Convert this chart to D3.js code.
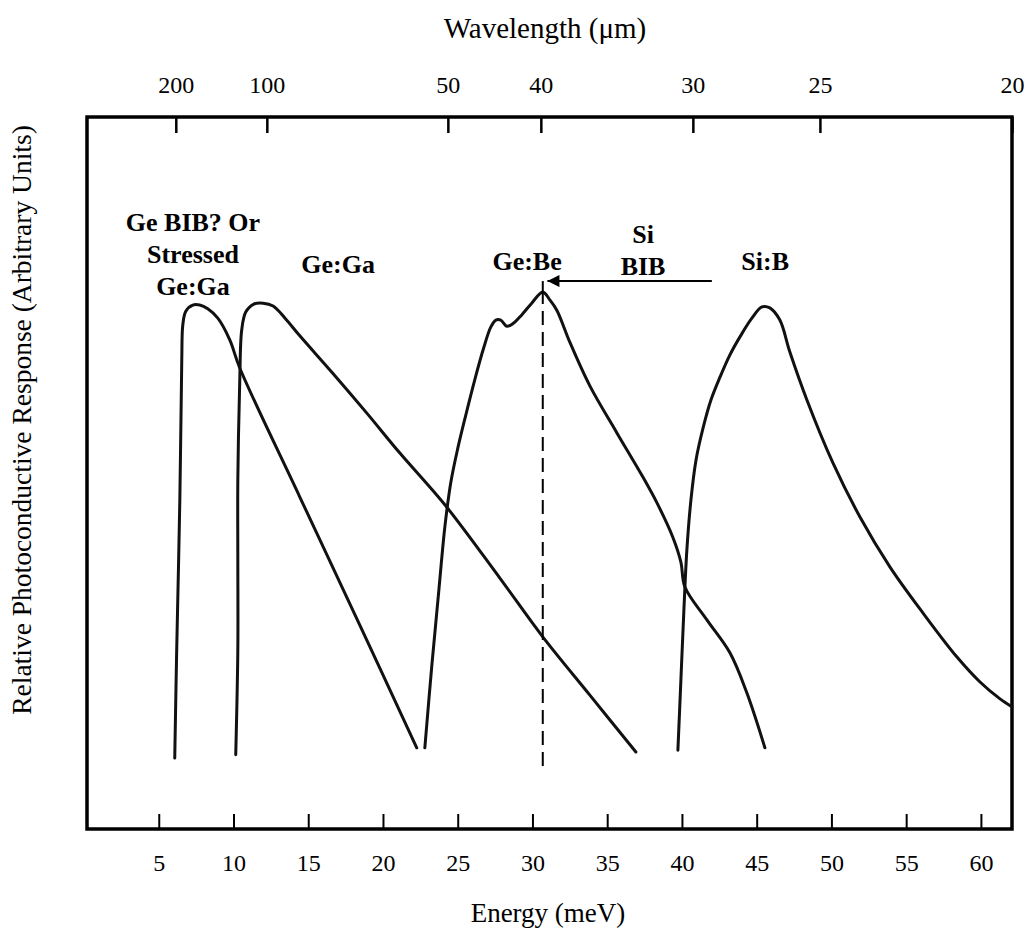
<!DOCTYPE html>
<html>
<head>
<meta charset="utf-8">
<script src="https://cdn.jsdelivr.net/npm/d3@7"></script>
<style>
  body { margin: 0; background: #fff; }
  text { font-family: "Liberation Serif", "Times New Roman", serif; fill: #000; }
</style>
</head>
<body>
<div id="chart"></div>
<script>
// energy axis ticks (meV)
var energyTicks = [5, 10, 15, 20, 25, 30, 35, 40, 45, 50, 55, 60]
// wavelength ticks (um) and the energy where each one sits on the top axis
var wavelengthTicks = [200, 100, 50, 40, 30, 25, 20]
var wavelengthTickEnergy = [6.14, 12.23, 24.34, 30.56, 40.73, 49.23, 62.08]

// curves: [energy meV, relative response]
var stressedGeGa = [[6.07,0.4],[6.20,23.4],[6.41,55.3],[6.54,85.1],[6.61,92.6],[6.81,95.5],[7.28,96.8],[7.74,96.8],
  [8.28,96.0],[8.95,94.0],[9.75,89.4],[10.42,83.4],[14.43,56.0],[18.45,28.7],[22.26,2.6]]
var geGa = [[10.15,1.1],[10.29,23.4],[10.29,42.6],[10.29,59.6],[10.42,80.9],[10.55,91.5],[10.82,95.3],[11.36,97.0],
  [11.98,97.2],[12.65,96.6],[13.45,94.0],[14.45,90.2],[16.64,82.3],[18.92,73.8],[21.13,65.3],[24.14,54.3],
  [27.82,38.7],[30.69,26.2],[33.84,13.8],[36.92,1.7]]
var geBe = [[22.80,2.6],[23.27,20.2],[23.74,36.2],[24.14,49.6],[24.54,59.1],[25.01,66.4],[25.54,73.4],[26.14,80.9],
  [26.74,87.7],[27.21,92.1],[27.55,93.6],[27.88,93.6],[28.28,92.3],[28.68,92.8],[29.28,94.7],[29.95,97.2],
  [30.69,99.6],[31.16,97.9],[31.63,95.7],[32.50,88.9],[33.84,79.6],[35.65,69.6],[37.39,60.2],[38.33,54.7],
  [39.39,47.4],[39.93,42.1],[40.20,36.8],[41.67,29.8],[43.21,22.8],[44.34,14.3],[45.55,2.6]]
var siB = [[39.73,2.1],[39.93,17.0],[40.13,31.9],[40.33,44.7],[40.60,55.3],[40.94,63.8],[41.41,70.6],[41.94,76.6],
  [42.55,81.5],[43.21,86.2],[43.95,90.4],[44.68,94.0],[45.35,96.4],[45.88,96.2],[46.55,93.6],[47.22,86.8],
  [48.36,76.6],[50.10,63.2],[51.91,51.7],[53.91,41.1],[56.12,31.3],[58.40,21.9],[59.94,16.6],[61.28,13.0],
  [62.08,11.3]]

// Si BIB arrow and Ge:Be cutoff marker
var siBibArrow = {from: 42.0, to: 31.0, level: 101.9}
var geBeCutoff = {energy: 30.69, top: 100, bottom: -1.7}

// labels: [text lines, energy, response]
var labels = [
  [["Ge BIB? Or", "Stressed", "Ge:Ga"], 7.29, 112.6],
  [["Ge:Ga"], 17.0, 103.6],
  [["Ge:Be"], 29.64, 104.3],
  [["Si", "BIB"], 37.4, 110.0],
  [["Si:B"], 45.57, 104.3]
]

var width = 1032, height = 948

var svg = d3.select("#chart").append("svg")
            .attr("width", width)
            .attr("height", height)

var frame = {left: 87, right: 1012, top: 117, bottom: 829}

var x = d3.scaleLinear().domain([0.2, 62.08]).range([frame.left, frame.right])
var y = d3.scaleLinear().domain([0, 100]).range([760, 290])

// bottom axis (energy)
var bottomAxis = svg.append("g")
                    .attr("transform", "translate(0," + frame.bottom + ")")
                    .call(d3.axisBottom(x).tickValues(energyTicks).tickSize(-15).tickPadding(25))
bottomAxis.select(".domain").remove()
bottomAxis.selectAll(".tick line").attr("stroke", "#000").attr("stroke-width", 2)
bottomAxis.selectAll(".tick text").attr("font-size", 24).attr("font-family", "Liberation Serif")

// top axis (wavelength)
var topAxis = svg.append("g")
                 .attr("transform", "translate(0," + frame.top + ")")
                 .call(d3.axisTop(x).tickValues(wavelengthTickEnergy)
                        .tickFormat(function(d, i) { return wavelengthTicks[i] })
                        .tickSize(-16).tickPadding(24))
topAxis.select(".domain").remove()
topAxis.selectAll(".tick line").attr("stroke", "#000").attr("stroke-width", 2.5)
topAxis.selectAll(".tick text").attr("font-size", 24).attr("font-family", "Liberation Serif")

// frame
svg.append("rect")
   .attr("x", frame.left)
   .attr("y", frame.top)
   .attr("width", frame.right - frame.left)
   .attr("height", frame.bottom - frame.top)
   .attr("fill", "none")
   .attr("stroke", "#000")
   .attr("stroke-width", 3.5)

// curves
var line = d3.line()
             .x(function(d) { return x(d[0]) })
             .y(function(d) { return y(d[1]) })
             .curve(d3.curveCatmullRom.alpha(0.5))

svg.selectAll(".curve")
   .data([stressedGeGa, geGa, geBe, siB])
   .enter().append("path")
   .attr("class", "curve")
   .attr("d", line)
   .attr("fill", "none")
   .attr("stroke", "#111")
   .attr("stroke-width", 3)
   .attr("stroke-linejoin", "round")
   .attr("stroke-linecap", "round")

// dashed cutoff
svg.append("line")
   .attr("x1", x(geBeCutoff.energy)).attr("x2", x(geBeCutoff.energy))
   .attr("y1", y(geBeCutoff.top)).attr("y2", y(geBeCutoff.bottom))
   .attr("stroke", "#000")
   .attr("stroke-width", 2)
   .attr("stroke-dasharray", "14,7")

// small riser from the peak to the arrow
svg.append("line")
   .attr("x1", x(geBeCutoff.energy)).attr("x2", x(geBeCutoff.energy))
   .attr("y1", y(geBeCutoff.top)).attr("y2", y(siBibArrow.level))
   .attr("stroke", "#000")
   .attr("stroke-width", 2)

// Si BIB arrow
svg.append("defs").append("marker")
   .attr("id", "head")
   .attr("viewBox", "0 0 10 10")
   .attr("refX", 10).attr("refY", 5)
   .attr("markerWidth", 8).attr("markerHeight", 6)
   .attr("markerUnits", "strokeWidth")
   .attr("orient", "auto")
   .append("path")
   .attr("d", "M0,0 L10,5 L0,10 z")
   .attr("fill", "#000")

svg.append("line")
   .attr("x1", x(siBibArrow.from)).attr("x2", x(siBibArrow.to))
   .attr("y1", y(siBibArrow.level)).attr("y2", y(siBibArrow.level))
   .attr("stroke", "#000")
   .attr("stroke-width", 2)
   .attr("marker-end", "url(#head)")

// curve labels
labels.forEach(function(l) {
  var t = svg.append("text")
             .attr("x", x(l[1]))
             .attr("y", y(l[2]))
             .attr("text-anchor", "middle")
             .attr("font-weight", "bold")
             .attr("font-size", 26)
  l[0].forEach(function(s, i) {
    t.append("tspan").attr("x", x(l[1])).attr("dy", i == 0 ? 0 : 32).text(s)
  })
})

// axis titles
svg.append("text")
   .attr("x", 545).attr("y", 38)
   .attr("text-anchor", "middle")
   .attr("font-size", 29)
   .text("Wavelength (\u03bcm)")

svg.append("text")
   .attr("x", 548).attr("y", 922)
   .attr("text-anchor", "middle")
   .attr("font-size", 27)
   .text("Energy (meV)")

svg.append("text")
   .attr("transform", "translate(31,420) rotate(-90)")
   .attr("text-anchor", "middle")
   .attr("font-size", 27.5)
   .text("Relative Photoconductive Response (Arbitrary Units)")
</script>
</body>
</html>
